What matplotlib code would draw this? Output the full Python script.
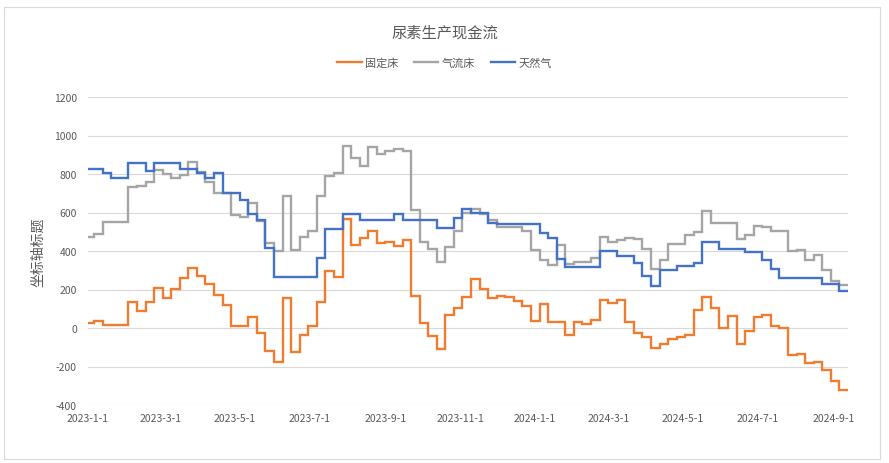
import matplotlib
matplotlib.use("Agg")
import matplotlib.pyplot as plt
from matplotlib.patches import Rectangle
import pandas as pd

plt.rcParams['font.family'] = ['Noto Sans CJK SC', 'DejaVu Sans']

title = "尿素生产现金流"
series_names = ["固定床", "气流床", "天然气"]
y_label = "坐标轴标题"

# weekly values (weeks starting on Fridays, first = 2022-12-30)
start_date = "2022-12-30"
end_date = "2024-09-13"

fixed_bed = [26, 35, 16, 16, 16, 135, 87, 135, 207, 157,
             203, 258, 311, 269, 228, 169, 122, 8, 8, 58,
             -28, -120, -177, 155, -127, -35, 12, 137, 297, 265,
             564, 432, 465, 505, 440, 445, 426, 456, 167, 28,
             -44, -108, 67, 104, 163, 253, 201, 158, 168, 163,
             142, 114, 34, 124, 32, 32, -37, 32, 20, 43,
             143, 132, 143, 33, -28, -45, -106, -85, -59, -49,
             -37, 94, 163, 103, 2, 63, -85, -16, 59, 68,
             10, 2, -141, -136, -184, -176, -216, -275, -323]

entrained_flow = [473, 490, 553, 553, 553, 730, 737, 756, 819, 800,
                  779, 797, 860, 812, 758, 703, 703, 587, 575, 650,
                  555, 440, 400, 688, 405, 474, 505, 685, 790, 803,
                  943, 885, 840, 940, 904, 918, 932, 918, 615, 447,
                  410, 342, 419, 503, 600, 619, 590, 560, 523, 523,
                  523, 505, 405, 354, 328, 432, 330, 344, 344, 362,
                  473, 445, 459, 468, 463, 410, 306, 355, 437, 437,
                  485, 497, 610, 543, 543, 546, 461, 483, 532, 527,
                  506, 506, 402, 407, 351, 381, 303, 242, 224]

natural_gas = [826, 826, 803, 777, 777, 856, 856, 816, 856, 856,
               856, 826, 826, 803, 777, 803, 703, 703, 664, 591,
               563, 416, 263, 263, 263, 263, 263, 365, 516, 516,
               591, 591, 563, 563, 563, 563, 591, 563, 563, 563,
               563, 518, 518, 569, 616, 598, 598, 546, 541, 541,
               541, 541, 541, 494, 468, 360, 316, 316, 316, 316,
               402, 402, 376, 376, 337, 268, 216, 299, 299, 323,
               323, 337, 445, 445, 410, 410, 410, 393, 393, 355,
               306, 259, 259, 259, 259, 259, 230, 230, 190]

tick_labels = ["2023-1-1", "2023-3-1", "2023-5-1", "2023-7-1", "2023-9-1",
               "2023-11-1", "2024-1-1", "2024-3-1", "2024-5-1", "2024-7-1",
               "2024-9-1"]
y_ticks = [-400, -200, 0, 200, 400, 600, 800, 1000, 1200]

colors = ["#ED7D31", "#A5A5A5", "#4472C4"]
text_color = "#595959"

dates = list(pd.date_range(start_date, periods=len(fixed_bed), freq="7D"))
x = dates + [pd.Timestamp(end_date)]

fig = plt.figure(figsize=(8.89, 4.64), dpi=100)
fig.patches.append(Rectangle((4 / 889, 4 / 464), 876 / 889, 452 / 464,
                             transform=fig.transFigure, fill=False,
                             edgecolor="#d9d9d9", linewidth=0.8))
ax = fig.add_axes([88 / 889, 1 - 406 / 464, 760 / 889, 308 / 464])

for name, vals, c in zip(series_names, [fixed_bed, entrained_flow, natural_gas], colors):
    ax.plot(x, list(vals) + [vals[-1]], drawstyle="steps-post", color=c,
            lw=1.7, label=name, solid_joinstyle="miter")

ax.set_xlim(pd.Timestamp("2023-01-01"), pd.Timestamp(end_date))
ax.set_ylim(-400, 1200)
ax.set_yticks(y_ticks)
ax.set_yticklabels([str(v) for v in y_ticks])
tick_dates = [pd.Timestamp(s) for s in tick_labels]
ax.set_xticks(tick_dates)
ax.set_xticklabels(tick_labels)

ax.grid(axis="y", color="#d9d9d9", lw=0.8)
ax.set_axisbelow(True)
for s in ["top", "right", "left", "bottom"]:
    ax.spines[s].set_visible(False)
ax.tick_params(axis="both", length=0, labelsize=7.5, colors=text_color)
ax.tick_params(axis="y", pad=8)
ax.tick_params(axis="x", pad=6)

ax.set_ylabel(y_label, fontsize=10, color=text_color, labelpad=6)

fig.text(0.5, 1 - 33 / 464, title, ha="center", va="center",
         fontsize=11, color=text_color)
fig.legend(loc="center", bbox_to_anchor=(0.5, 1 - 64 / 464), ncol=3,
           frameon=False, fontsize=8, handlelength=2.2, handletextpad=0.3,
           columnspacing=1.4, labelcolor=text_color)

fig.savefig("out.png", dpi=100)
